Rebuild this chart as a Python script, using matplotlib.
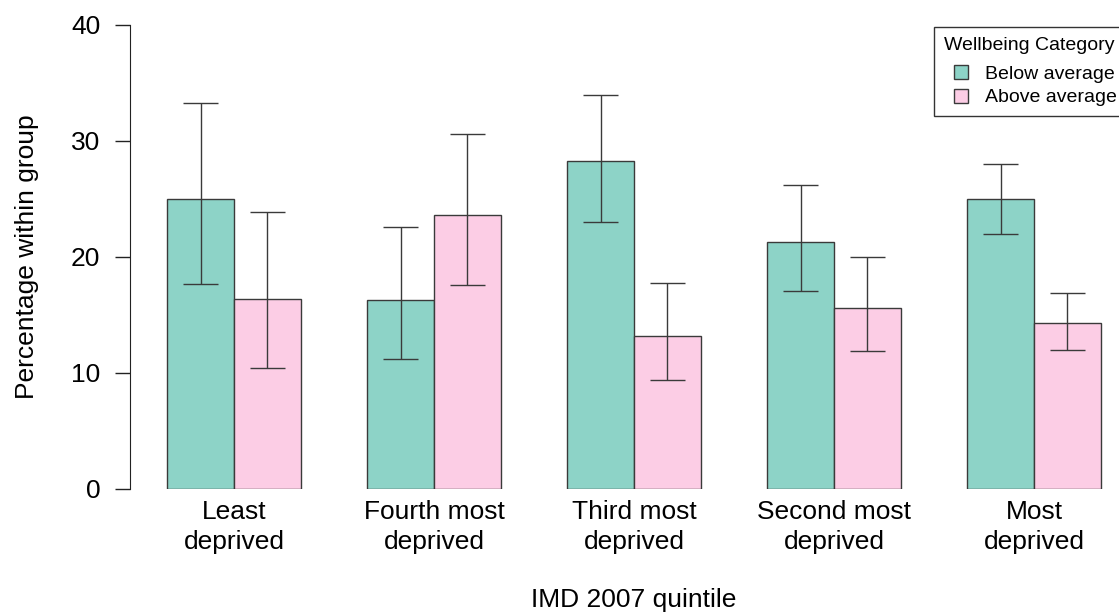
import matplotlib
matplotlib.use("Agg")
import matplotlib.pyplot as plt
from matplotlib.lines import Line2D
import numpy as np

plt.rcParams['font.family'] = ['Liberation Sans', 'DejaVu Sans']

categories = ["Least\ndeprived", "Fourth most\ndeprived", "Third most\ndeprived",
              "Second most\ndeprived", "Most\ndeprived"]
series_names = ["Below average", "Above average"]
below = [25.0, 16.3, 28.3, 21.3, 25.0]
below_lo = [17.7, 11.25, 23.0, 17.1, 22.0]
below_hi = [33.3, 22.6, 34.0, 26.2, 28.0]
above = [16.4, 23.65, 13.2, 15.6, 14.3]
above_lo = [10.4, 17.6, 9.4, 11.9, 12.0]
above_hi = [23.9, 30.6, 17.8, 20.0, 16.9]
yticks = [0, 10, 20, 30, 40]

W, H = 1119, 614
fig = plt.figure(figsize=(W / 100, H / 100), dpi=100)
left_px, right_px, top_px, bottom_px = 130, 1119, 25, 489
ax = fig.add_axes([left_px / W, 1 - bottom_px / H, (right_px - left_px) / W, (bottom_px - top_px) / H])

px_per_unit = 200 / 3.0
x0 = 0.44
ax.set_xlim(x0, x0 + (right_px - left_px) / px_per_unit)
ax.set_ylim(0, 40)

green = "#8DD3C7"
pink = "#FCCDE5"
edge = "#3a3a3a"

n = len(categories)
gpos = np.arange(n) * 3
xg = gpos + 1.5
xp = gpos + 2.5
ax.bar(xg, below, width=1.0, color=green, edgecolor=edge, linewidth=1.0, zorder=2)
ax.bar(xp, above, width=1.0, color=pink, edgecolor=edge, linewidth=1.0, zorder=2)

def errbars(xs, lo, hi):
    for x, l, h in zip(xs, lo, hi):
        ax.plot([x, x], [l, h], color=edge, lw=1.0, zorder=3, solid_capstyle='butt')
        for yv in (l, h):
            ax.plot([x - 0.26, x + 0.26], [yv, yv], color=edge, lw=1.0, zorder=3, solid_capstyle='butt')

errbars(xg, below_lo, below_hi)
errbars(xp, above_lo, above_hi)

for s in ['top', 'right', 'bottom']:
    ax.spines[s].set_visible(False)
ax.spines['left'].set_bounds(0, 40)
ax.spines['left'].set_color('#222222')
ax.set_yticks(yticks)
ax.set_yticklabels([str(v) for v in yticks], fontsize=19)
ax.tick_params(axis='y', length=10.5, width=1.0, pad=11, color='#222222')

ax.set_xticks(gpos + 2)
ax.set_xticklabels(categories, fontsize=19, linespacing=1.3)
ax.tick_params(axis='x', length=0, pad=8)

ax.set_ylabel("Percentage within group", fontsize=19, labelpad=23)
fig.text((130 + 1138) / 2 / W, 1 - 600 / H, "IMD 2007 quintile", fontsize=19,
         ha='center', va='center')

handles = [Line2D([], [], linestyle='none', marker='s', markersize=10.5,
                  markerfacecolor=green, markeredgecolor=edge, markeredgewidth=1.0),
           Line2D([], [], linestyle='none', marker='s', markersize=10.5,
                  markerfacecolor=pink, markeredgecolor=edge, markeredgewidth=1.0)]
leg = fig.legend(handles, series_names, title="Wellbeing Category",
                 loc='upper left', bbox_to_anchor=(934 / W, 1 - 27 / H),
                 fontsize=14, title_fontsize=14, frameon=True, fancybox=False,
                 borderaxespad=0, handlelength=1.8, handleheight=0.75,
                 handletextpad=0.3, labelspacing=0.3, borderpad=0.5,
                 alignment='left')
leg.get_frame().set_edgecolor('black')
leg.get_frame().set_linewidth(1.0)
leg._legend_box.sep = 8

fig.savefig("out.png", dpi=100)
